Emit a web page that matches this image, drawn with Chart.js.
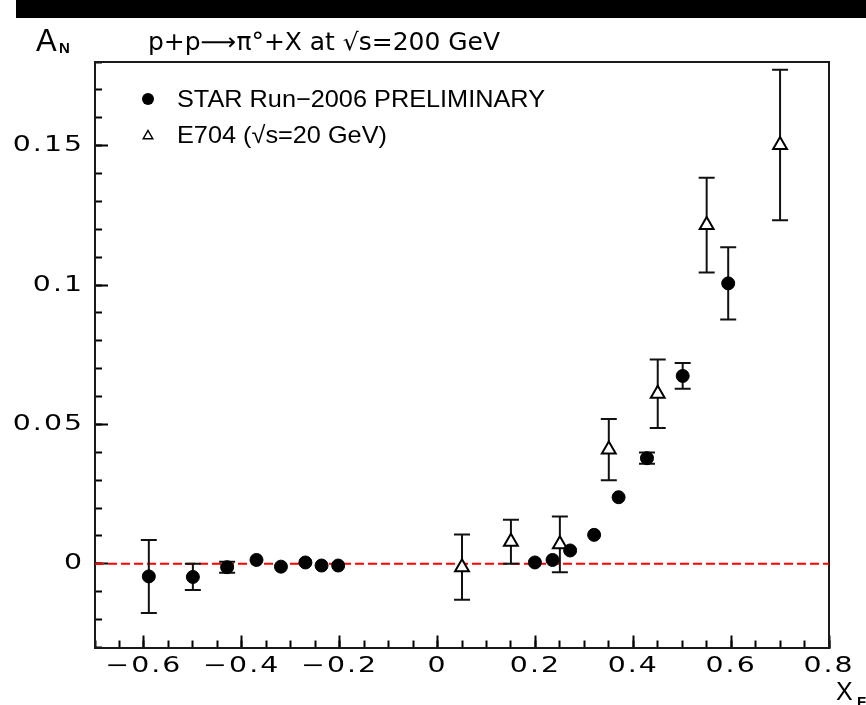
<!DOCTYPE html>
<html>
<head>
<meta charset="utf-8">
<style>
  html, body { margin: 0; padding: 0; background: #fff; }
  #wrap { width: 866px; height: 705px; position: relative; }
  canvas { display: block; }
</style>
<script src="https://cdn.jsdelivr.net/npm/chart.js@4.4.1/dist/chart.umd.min.js"></script>
</head>
<body>
<div id="wrap"><canvas id="c" width="866" height="705"></canvas></div>
<script>
// ---------------- data ----------------
const starX   = [-0.59, -0.50, -0.43, -0.37, -0.32, -0.27, -0.237, -0.203, 0.199, 0.235, 0.271, 0.320, 0.370, 0.428, 0.501, 0.594];
const starY   = [-0.0045, -0.0047, -0.0012, 0.0014, -0.0010, 0.0005, -0.0006, -0.0006, 0.0005, 0.0014, 0.0048, 0.0104, 0.0239, 0.0379, 0.0674, 0.1006];
const starErr = [0.0131, 0.0047, 0.0020, 0, 0, 0, 0, 0, 0, 0, 0, 0, 0, 0.0020, 0.0046, 0.0130];

const e704X   = [0.05, 0.15, 0.25, 0.35, 0.45, 0.55, 0.70];
const e704Y   = [-0.0012, 0.0079, 0.0070, 0.0410, 0.0610, 0.1215, 0.1502];
const e704Err = [0.0117, 0.0079, 0.0100, 0.0110, 0.0123, 0.0170, 0.0270];

const zeroLineX = [-0.7, 0.8];
const zeroLineY = [0, 0];

const xRange = [-0.7, 0.8];
const yRange = [-0.03, 0.18];
const xMinorStep = 0.05;
const yMinorStep = 0.01;
const xTickValues = [-0.6, -0.4, -0.2, 0, 0.2, 0.4, 0.6, 0.8];
const xTickLabels = ['\u22120.6', '\u22120.4', '\u22120.2', '0', '0.2', '0.4', '0.6', '0.8'];
const yTickValues = [0, 0.05, 0.1, 0.15];
const yTickLabels = ['0', '0.05', '0.1', '0.15'];

const titleText = 'p+p\u27F6\u03C0\u00B0+X at \u221As=200 GeV';
const yAxisTitle = ['A', 'N'];
const xAxisTitle = ['X', 'F'];
const legendLabels = ['STAR Run\u22122006 PRELIMINARY', 'E704 (\u221As=20 GeV)'];

// ---------------- build library data ----------------
const toPts = (xs, ys) => xs.map((x, i) => ({ x: x, y: ys[i] }));
function errLines(xs, ys, es) {
  const out = [];
  xs.forEach((x, i) => { if (!es[i]) return; out.push({ x: x, y: ys[i] - es[i] }, { x: x, y: ys[i] + es[i] }, { x: x, y: null }); });
  return out;
}
function errCaps(xs, ys, es) {
  const out = [];
  xs.forEach((x, i) => { if (!es[i]) return; out.push({ x: x, y: ys[i] - es[i] }, { x: x, y: ys[i] + es[i] }); });
  return out;
}
const allErrLines = errLines(starX, starY, starErr).concat(errLines(e704X, e704Y, e704Err));
const allErrCaps = errCaps(starX, starY, starErr).concat(errCaps(e704X, e704Y, e704Err));

function labelFor(values, labels, v) {
  for (let i = 0; i < values.length; i++) if (Math.abs(values[i] - v) < 1e-6) return labels[i];
  return '';
}

const FRAME = '#1a1a1a';
const TICKFONT = { family: '"DejaVu Sans", sans-serif', size: 21 };
const TICK_STRETCH = 1.35;

const decor = {
  id: 'decor',
  beforeDraw(chart) {
    const c = chart.ctx;
    if (!c.__origFill) {
      c.__origFill = c.fillText;
      c.fillText = function (t, x, y, mw) {
        if (this.__stretch && this.__stretch !== 1) {
          this.save();
          this.translate(x, y);
          this.scale(this.__stretch, 1);
          this.__origFill(t, 0, 0, mw);
          this.restore();
        } else {
          this.__origFill(t, x, y, mw);
        }
      };
    }
    c.save();
    c.fillStyle = '#fff';
    c.fillRect(0, 0, chart.width, chart.height);
    c.fillStyle = '#000';
    c.fillRect(16, 0, chart.width - 16, 18);
    c.restore();
    c.letterSpacing = '1.5px';
    c.__stretch = TICK_STRETCH;
  },
  beforeDatasetsDraw(chart) {
    const c = chart.ctx;
    c.letterSpacing = '0px';
    c.__stretch = 1;
    const a = chart.chartArea;
    c.save();
    c.strokeStyle = FRAME;
    c.lineWidth = 2;
    c.beginPath();
    c.moveTo(a.left, a.top);
    c.lineTo(a.right, a.top);
    c.lineTo(a.right, a.bottom);
    c.stroke();
    c.restore();
  },
  afterDraw(chart) {
    const c = chart.ctx;
    c.__stretch = 1;
    c.save();
    c.letterSpacing = '0px';
    c.fillStyle = '#000';
    c.textBaseline = 'alphabetic';
    c.textAlign = 'left';

    // title, stretched to its width in the reference
    c.font = '24px "DejaVu Sans"';
    let w = c.measureText(titleText).width;
    c.save();
    c.translate(148, 50);
    c.scale(352 / w, 1);
    c.fillText(titleText, 0, 0);
    c.restore();

    // A_N
    c.font = '31px "Liberation Sans"';
    c.fillText(yAxisTitle[0], 36, 51);
    c.font = 'bold 15px "Liberation Sans"';
    c.fillText(yAxisTitle[1], 59, 53);

    // X_F
    c.font = '25px "Liberation Sans"';
    c.fillText(xAxisTitle[0], 836, 700);
    c.font = 'bold 15px "Liberation Sans"';
    c.fillText(xAxisTitle[1], 857, 707);

    // legend
    c.font = '24px "Liberation Sans"';
    const lw = c.measureText(legendLabels[0]).width;
    const s = 368 / lw;
    const rows = [107, 143];
    legendLabels.forEach((t, i) => {
      c.save();
      c.translate(177, rows[i]);
      c.scale(s, 1);
      c.fillText(t, 0, 0);
      c.restore();
    });
    // legend markers
    c.beginPath();
    c.arc(148, 99, 6, 0, Math.PI * 2);
    c.fill();
    const tx = 148, ty = 136, r = 5.5;
    c.beginPath();
    c.moveTo(tx, ty - r);
    c.lineTo(tx + r * 0.866, ty + r / 2);
    c.lineTo(tx - r * 0.866, ty + r / 2);
    c.closePath();
    c.fillStyle = '#fff';
    c.fill();
    c.strokeStyle = '#000';
    c.lineWidth = 1.5;
    c.stroke();
    c.restore();
  }
};

new Chart(document.getElementById('c'), {
  type: 'scatter',
  data: {
    datasets: [
      {
        label: legendLabels[0], data: toPts(starX, starY), xAxisID: 'x', yAxisID: 'y', order: 0,
        pointStyle: 'circle', pointRadius: 6.5, pointBackgroundColor: '#000', pointBorderColor: '#000', pointBorderWidth: 1
      },
      {
        label: legendLabels[1], data: toPts(e704X, e704Y), xAxisID: 'x', yAxisID: 'y', order: 1,
        pointStyle: 'triangle', pointRadius: 8, pointBackgroundColor: '#fff', pointBorderColor: '#000', pointBorderWidth: 2
      },
      {
        label: 'errors', data: allErrLines, xAxisID: 'x', yAxisID: 'y', order: 3,
        showLine: true, spanGaps: false, borderColor: '#111', borderWidth: 2, pointRadius: 0, borderCapStyle: 'butt'
      },
      {
        label: 'caps', data: allErrCaps, xAxisID: 'x', yAxisID: 'y', order: 3,
        pointStyle: 'line', pointRadius: 8, pointBorderColor: '#111', pointBorderWidth: 2, pointBackgroundColor: '#111'
      },
      {
        label: 'zero', data: toPts(zeroLineX, zeroLineY), xAxisID: 'x', yAxisID: 'y', order: 9,
        showLine: true, borderColor: '#ff0000', borderWidth: 2, borderDash: [9, 4], pointRadius: 0
      }
    ]
  },
  options: {
    responsive: false,
    animation: false,
    events: [],
    layout: { padding: { left: 0, right: 37, top: 62, bottom: 0 } },
    plugins: { legend: { display: false }, title: { display: false }, tooltip: { enabled: false } },
    scales: {
      x: {
        type: 'linear', position: 'bottom', min: xRange[0], max: xRange[1], weight: 0,
        ticks: {
          stepSize: xMinorStep, autoSkip: false, maxRotation: 0, minRotation: 0, padding: 13,
          color: '#000', font: TICKFONT,
          callback: (v) => labelFor(xTickValues, xTickLabels, v)
        },
        grid: { drawOnChartArea: false, drawTicks: true, tickLength: -7, tickWidth: 2, tickColor: '#000' },
        border: { display: true, color: FRAME, width: 2 },
        afterFit: (s) => { s.height = 57.5; }
      },
      xMaj: {
        type: 'linear', position: 'bottom', min: xRange[0], max: xRange[1], weight: -1,
        afterBuildTicks: (s) => { s.ticks = xTickValues.map(v => ({ value: v })); },
        ticks: { display: false, autoSkip: false },
        grid: { drawOnChartArea: false, drawTicks: true, tickLength: -12, tickWidth: 2, tickColor: '#000' },
        border: { display: false },
        afterFit: (s) => { s.height = 0; }
      },
      y: {
        type: 'linear', position: 'left', min: yRange[0], max: yRange[1], weight: 0,
        ticks: {
          stepSize: yMinorStep, autoSkip: false, padding: 18,
          color: '#000', font: TICKFONT,
          callback: (v) => labelFor(yTickValues, yTickLabels, v)
        },
        grid: { drawOnChartArea: false, drawTicks: true, tickLength: -7, tickWidth: 2, tickColor: '#000' },
        border: { display: true, color: FRAME, width: 2 },
        afterFit: (s) => { s.width = 95; }
      },
      yMaj: {
        type: 'linear', position: 'left', min: yRange[0], max: yRange[1], weight: -1,
        afterBuildTicks: (s) => { s.ticks = yTickValues.map(v => ({ value: v })); },
        ticks: { display: false, autoSkip: false },
        grid: { drawOnChartArea: false, drawTicks: true, tickLength: -13, tickWidth: 2, tickColor: '#000' },
        border: { display: false },
        afterFit: (s) => { s.width = 0; }
      }
    }
  },
  plugins: [decor]
});
</script>
</body>
</html>
